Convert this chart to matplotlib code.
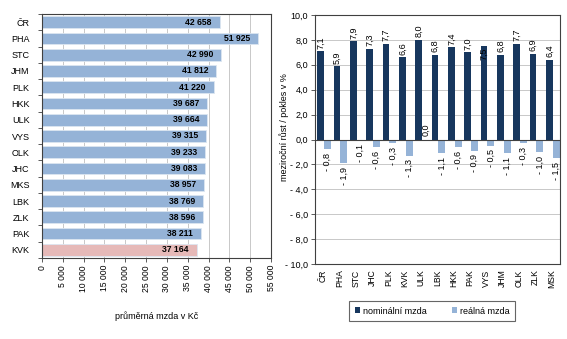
import matplotlib
matplotlib.use("Agg")
import matplotlib.pyplot as plt
from matplotlib.patches import Patch
from matplotlib.ticker import FuncFormatter, MultipleLocator
import numpy as np

plt.rcParams['font.family'] = ['Liberation Sans', 'DejaVu Sans']

# --- average wage by region ---
wage_regions = ["ČR", "PHA", "STC", "JHM", "PLK", "HKK", "ULK", "VYS", "OLK",
                "JHC", "MKS", "LBK", "ZLK", "PAK", "KVK"]
wage_values = [42658, 51925, 42990, 41812, 41220, 39687, 39664, 39315, 39233,
               39083, 38957, 38769, 38596, 38211, 37164]
wage_ticks = list(range(0, 55001, 5000))

# --- year-on-year change of wages ---
change_regions = ["ČR", "PHA", "STC", "JHC", "PLK", "KVK", "ULK", "LBK", "HKK",
                  "PAK", "VYS", "JHM", "OLK", "ZLK", "MSK"]
nominal = [7.1, 5.9, 7.9, 7.3, 7.7, 6.6, 8.0, 6.8, 7.4, 7.0, 7.5, 6.8, 7.7, 6.9, 6.4]
real = [-0.8, -1.9, -0.1, -0.6, -0.3, -1.3, 0.0, -1.1, -0.6, -0.9, -0.5, -1.1, -0.3, -1.0, -1.5]

W, H = 567, 339
fig = plt.figure(figsize=(W / 100, H / 100), dpi=100)

def px_axes(x0, y0, x1, y1):
    return fig.add_axes([x0 / W, 1 - y1 / H, (x1 - x0) / W, (y1 - y0) / H])

def cz_thousands(v, _=None):
    return f"{int(v):,}".replace(",", " ")

def cz_dec(v):
    s = f"{abs(v):.1f}".replace(".", ",")
    return ("- " + s) if v < 0 else s

blue = "#95B3D7"
pink = "#E6B9B8"
navy = "#17375E"
grid_c = "#C8C8C8"
spine_c = "#404040"

# ---------------- left chart ----------------
ax1 = px_axes(42, 14, 271, 258)
y = np.arange(len(wage_regions))
colors = [pink if r == "KVK" else blue for r in wage_regions]
ax1.barh(y, wage_values, height=0.72, color=colors, edgecolor="#DCE6F1",
         linewidth=0.6, zorder=2)
ax1.set_ylim(len(wage_regions) - 0.5, -0.5)
ax1.set_xlim(0, 55000)
ax1.set_xticks(wage_ticks)
ax1.xaxis.set_major_formatter(FuncFormatter(cz_thousands))
ax1.tick_params(axis="x", labelrotation=90, labelsize=6.2, length=3, width=0.6,
                color=spine_c, pad=2)
ax1.set_yticks(y)
ax1.set_yticklabels(wage_regions)
ax1.tick_params(axis="y", labelsize=6.5, length=0, pad=9)
ax1.set_yticks(np.arange(-0.5, len(wage_regions), 1), minor=True)
ax1.tick_params(axis="y", which="minor", length=3, width=0.6, color=spine_c)
ax1.grid(axis="x", color=grid_c, linewidth=0.7, zorder=0)
ax1.set_axisbelow(True)
for s in ax1.spines.values():
    s.set_color(spine_c)
    s.set_linewidth(0.8)
for yi, v in zip(y, wage_values):
    ax1.text(v - 1900, yi, cz_thousands(v), ha="right", va="center",
             fontsize=6.2, fontweight="bold", color="black", zorder=3)
ax1.set_xlabel("průměrná mzda v Kč", fontsize=6.5, labelpad=14)

# ---------------- right chart ----------------
ax2 = px_axes(315, 15, 560, 264)
x = np.arange(len(change_regions))
bw = 0.41
ax2.bar(x - bw / 2 + 0.06, nominal, width=bw, color=navy, zorder=2,
        label="nominální mzda")
ax2.bar(x + bw / 2 + 0.06, real, width=bw, color=blue, zorder=2,
        label="reálná mzda")
ax2.set_xlim(-0.5, len(change_regions) - 0.5)
ax2.set_ylim(-10, 10)
ax2.yaxis.set_major_locator(MultipleLocator(2))
ax2.yaxis.set_major_formatter(FuncFormatter(lambda v, _: cz_dec(v)))
ax2.tick_params(axis="y", labelsize=6.5, length=3, width=0.6, color=spine_c, pad=2)
ax2.set_xticks(x)
ax2.set_xticklabels(change_regions, rotation=90)
ax2.tick_params(axis="x", labelsize=6.2, length=0, pad=4)
ax2.grid(axis="y", color=grid_c, linewidth=0.7, zorder=0)
ax2.set_axisbelow(True)
ax2.axhline(0, color=spine_c, linewidth=0.8, zorder=3)
for s in ax2.spines.values():
    s.set_color(spine_c)
    s.set_linewidth(0.8)
ax2.set_ylabel("meziroční růst / pokles v %", fontsize=6.5, labelpad=3)
ax2.yaxis.set_label_coords(-0.105, 0.55)

for xi, v, r in zip(x, nominal, change_regions):
    xc = xi - bw / 2 + 0.06
    if r == "VYS":
        ax2.text(xc, v - 0.15, cz_dec(v), rotation=90, ha="center", va="top",
                 fontsize=6.5, color="black", zorder=4)
    else:
        ax2.text(xc, v + 0.2, cz_dec(v), rotation=90, ha="center", va="bottom",
                 fontsize=6.5, color="black", zorder=4)
for xi, v in zip(x, real):
    xc = xi + bw / 2 + 0.06
    if v >= 0:
        ax2.text(xc, v + 0.3, cz_dec(v), rotation=90, ha="center", va="bottom",
                 fontsize=6.5, color="black", zorder=4)
    else:
        ax2.text(xc, v - 0.3, cz_dec(v), rotation=90, ha="center", va="top",
                 fontsize=6.5, color="black", zorder=4)

handles = [Patch(facecolor=navy, label="nominální mzda"),
           Patch(facecolor=blue, label="reálná mzda")]
leg = fig.legend(handles=handles, loc="center", ncol=2,
                 bbox_to_anchor=(432 / W, 1 - 311 / H), fontsize=6.5,
                 frameon=True, fancybox=False, handlelength=0.6,
                 handleheight=0.6, handletextpad=0.3, columnspacing=2.8,
                 borderpad=0.6)
leg.get_frame().set_edgecolor(spine_c)
leg.get_frame().set_linewidth(0.8)

fig.savefig("out.png", dpi=100)
